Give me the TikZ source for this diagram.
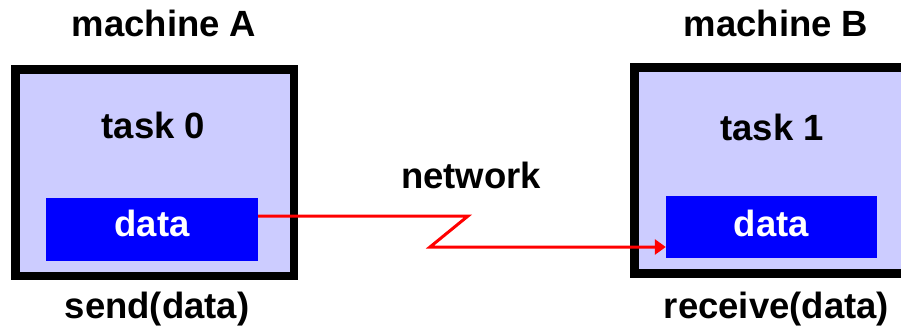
\documentclass[tikz,border=0pt]{standalone}
\usepackage{fontspec}
\setmainfont{Liberation Sans}
\usetikzlibrary{arrows.meta,calc}
\definecolor{machinefill}{HTML}{CCCCFF}
\definecolor{datablue}{HTML}{0000FF}
\definecolor{linkred}{HTML}{FF0000}
\tikzset{
  label text/.style={inner sep=0pt, anchor=base, font=\fontsize{36.5}{40}\selectfont\bfseries},
  machine/.style={draw=black, line width=8.5pt, fill=machinefill},
  databox/.style={fill=datablue, draw=none, inner sep=0pt},
  link/.style={draw=linkred, line width=3pt, -{Triangle[length=11pt,width=15pt]}},
}
\begin{document}
\begin{tikzpicture}[x=1pt,y=-1pt]
  \useasboundingbox (0,0) rectangle (901,329);
  \clip (0,0) rectangle (901,329);
  \fill[white] (0,0) rectangle (901,329);

  % the two machines
  \draw[machine] (15.25,69.25) rectangle (293.75,275.75);
  \draw[machine] (634.5,67.5) rectangle (915,273.5);

  % data buffers
  \node[databox, minimum width=212pt, minimum height=63pt] (dataA) at (152,229.5) {};
  \node[label text, text=white] (dataAtext) at (152,236) {data};
  \node[databox, minimum width=211pt, minimum height=62pt] (dataB) at (771.5,227) {};
  \node[label text, text=white] (dataBtext) at (771.5,236) {data};

  % labels
  \node[label text] (machA) at (164,37) {machine A};
  \node[label text] (machB) at (776,37) {machine B};
  \node[label text] (task0) at (153.5,138) {task 0};
  \node[label text] (task1) at (772,140) {task 1};
  \node[label text] (net) at (471,188) {network};
  \node[label text] (send) at (157,318) {send(data)};
  \node[label text] (recv) at (776.5,318) {receive(data)};

  % network link with a zigzag
  \coordinate (z1) at (468,216);
  \coordinate (z2) at (430,247);
  \draw[link] ([yshift=13.5pt]dataA.east) -- (z1) -- (z2) -- ([yshift=-20pt]dataB.west);
\end{tikzpicture}
\end{document}
